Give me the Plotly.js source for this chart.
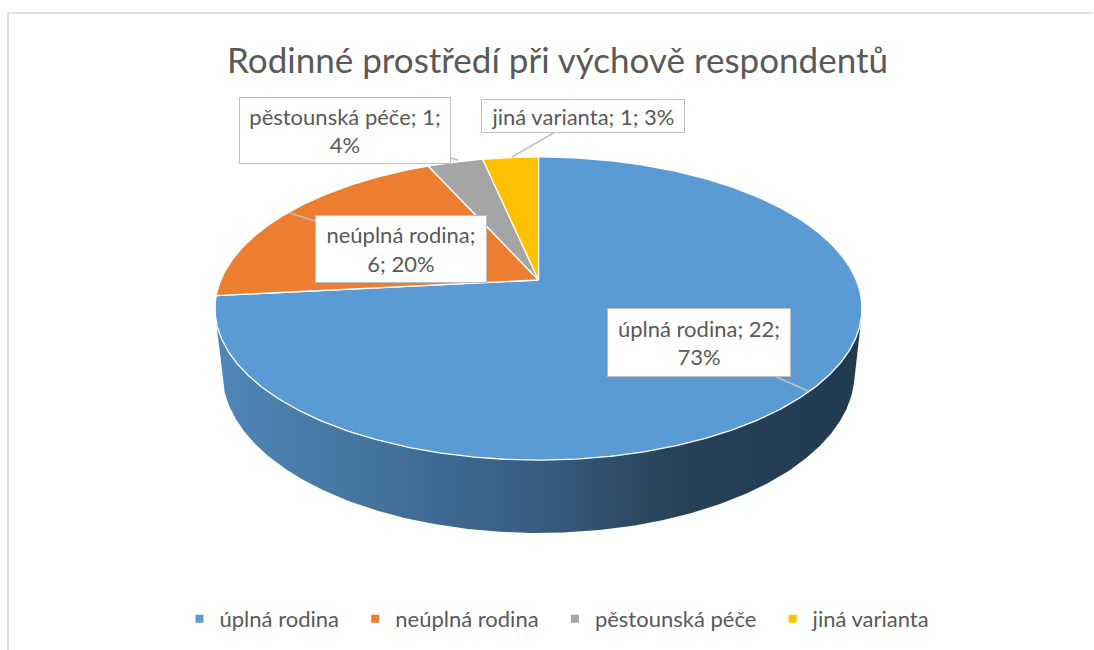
<!DOCTYPE html>
<html><head><meta charset="utf-8">
<script src="https://cdn.plot.ly/plotly-3.0.1.min.js"></script>
<style>html,body{margin:0;padding:0;background:#fff}#chart{width:1094px;height:650px}</style>
</head><body><div id="chart"></div>
<script>
// ---- data ----
const categories = ["úplná rodina", "neúplná rodina", "pěstounská péče", "jiná varianta"];
const counts = [22, 6, 1, 1];
const percentLabels = ["73%", "20%", "4%", "3%"];
const titleText = "Rodinné prostředí při výchově respondentů";

// ---- styles / layout settings ----
const sliceColors = ["#5B9BD5", "#ED7D31", "#A5A5A5", "#FFC000"];
const W = 1094, H = 650;
const FONT = "Lato, 'Open Sans', sans-serif";
const TEXT_COLOR = "#595959";
const LEGEND_PAD = "\u00a0\u00a0";
const view = {cx: 538.5, cy: 280, scale: 317.7, phi: 27.4 * Math.PI / 180, dist: 4.72, depth: 0.23};
const labelWrap = [18, 15, 19, 21];
const labelBoxes = [ // box centre (px), box size, callout tip (px)
  {cx: 699, cy: 342.5, w: 184, h: 69, tx: 808, ty: 391},
  {cx: 401, cy: 249, w: 172, h: 68, tx: 290, ty: 213},
  {cx: 345, cy: 130.5, w: 212, h: 67, tx: 458, ty: 160},
  {cx: 583, cy: 116, w: 204, h: 34, tx: 512, ty: 157}
];

function project(X, Y, z) {
  const c = Math.cos(view.phi), s = Math.sin(view.phi);
  const w = 1 + (Y * c - z * s) / view.dist;
  return [X / w, (Y * s + z * c) / w];
}
function rimPoint(t, z) { return project(Math.sin(t), Math.cos(t), z); }
function arc(a0, a1, z) {
  const n = Math.max(2, Math.ceil((a1 - a0) / (Math.PI / 360)));
  const xs = [], ys = [];
  for (let k = 0; k <= n; k++) {
    const p = rimPoint(a0 + (a1 - a0) * k / n, z);
    xs.push(p[0]); ys.push(p[1]);
  }
  return [xs, ys];
}
function hexToRgb(h) { const v = parseInt(h.slice(1), 16); return [(v >> 16) & 255, (v >> 8) & 255, v & 255]; }
function shade(h, f) { const c = hexToRgb(h); return 'rgb(' + c.map(x => Math.round(x * f)).join(',') + ')'; }

const total = counts.reduce((a, b) => a + b, 0);
const bounds = [];
let acc = 0;
counts.forEach(v => { const a0 = acc / total * 2 * Math.PI; acc += v; bounds.push([a0, acc / total * 2 * Math.PI]); });

const traces = [];
// visible side wall
const cosLim = -1 / (view.dist * Math.cos(view.phi));
const t1 = Math.acos(cosLim), t2 = 2 * Math.PI - t1;
bounds.forEach((b, i) => {
  const a0 = Math.max(b[0], t1), a1 = Math.min(b[1], t2);
  if (a1 <= a0) return;
  const top = arc(a0, a1, 0), bot = arc(a0, a1, -view.depth);
  const xs = top[0].concat(bot[0].slice().reverse()); xs.push(xs[0]);
  const ys = top[1].concat(bot[1].slice().reverse()); ys.push(ys[0]);
  traces.push({
    type: 'scatter', mode: 'lines', x: xs, y: ys, fill: 'toself',
    line: {width: 0, color: shade(sliceColors[i], 0.5)},
    fillcolor: shade(sliceColors[i], 0.5),
    fillgradient: {type: 'horizontal', start: -1.02, stop: 1.02,
      colorscale: [[0, shade(sliceColors[i], 0.87)], [0.5, shade(sliceColors[i], 0.6)],
                   [0.73, shade(sliceColors[i], 0.41)], [1, shade(sliceColors[i], 0.38)]]},
    hoverinfo: 'skip', showlegend: false
  });
});
// top face slices
bounds.forEach((b, i) => {
  const a = arc(b[0], b[1], 0);
  const xs = [0].concat(a[0], [0]);
  const ys = [0].concat(a[1], [0]);
  traces.push({
    type: 'scatter', mode: 'lines', x: xs, y: ys, fill: 'toself',
    fillcolor: sliceColors[i], line: {color: '#ffffff', width: 1.3},
    name: categories[i], legendgroup: categories[i], showlegend: false,
    hoveron: 'fills', text: categories[i] + ': ' + counts[i] + ' (' + percentLabels[i] + ')', hoverinfo: 'text'
  });
});
// legend entries
categories.forEach((c, i) => {
  traces.push({type: 'scatter', mode: 'markers', x: [null], y: [null], name: c + LEGEND_PAD, legendgroup: c,
    marker: {symbol: 'square', size: 8, color: sliceColors[i]}, hoverinfo: 'skip'});
});

function wrap(str, n) {
  const words = str.split(' '); const lines = []; let cur = '';
  words.forEach(w => { const t = cur ? cur + ' ' + w : w; if (t.length > n && cur) { lines.push(cur); cur = w; } else cur = t; });
  if (cur) lines.push(cur);
  return lines.join('<br>');
}
const annotations = categories.map((c, i) => {
  const bx = labelBoxes[i];
  return {
    xref: 'paper', yref: 'paper', x: bx.tx / W, y: 1 - bx.ty / H,
    ax: bx.cx - bx.tx, ay: bx.cy - bx.ty, axref: 'pixel', ayref: 'pixel',
    text: wrap([c, counts[i], percentLabels[i]].join('; '), labelWrap[i]),
    showarrow: true, arrowhead: 0, arrowwidth: 1.5, arrowcolor: '#BFBFBF', standoff: 0,
    bgcolor: '#ffffff', bordercolor: '#BFBFBF', borderwidth: 1, borderpad: 0,
    width: bx.w - 2, height: bx.h - 2, align: 'center', valign: 'middle',
    font: {family: FONT, size: 22, color: TEXT_COLOR}
  };
});

const layout = {
  width: W, height: H, margin: {l: 0, r: 0, t: 0, b: 0},
  paper_bgcolor: '#ffffff', plot_bgcolor: '#ffffff',
  xaxis: {range: [(0 - view.cx) / view.scale, (W - view.cx) / view.scale], visible: false, fixedrange: true},
  yaxis: {range: [(view.cy - H) / view.scale, view.cy / view.scale], visible: false, fixedrange: true},
  title: {text: titleText, font: {family: FONT, size: 35, color: TEXT_COLOR},
          x: 557.5 / W, xanchor: 'center', xref: 'paper', y: 1 - 61 / H, yanchor: 'middle', yref: 'paper'},
  showlegend: true,
  legend: {orientation: 'h', x: 563 / W, xanchor: 'center', y: 1 - 619 / H, yanchor: 'middle',
           font: {family: FONT, size: 22, color: TEXT_COLOR}, bgcolor: 'rgba(0,0,0,0)', itemclick: false, itemdoubleclick: false},
  annotations: annotations,
  shapes: [
    {type: 'line', xref: 'paper', yref: 'paper', x0: 8 / W, x1: 8 / W, y0: 1 - 13 / H, y1: 0, line: {color: '#D9D9D9', width: 1.5}},
    {type: 'line', xref: 'paper', yref: 'paper', x0: 8 / W, x1: 1093 / W, y0: 1 - 13 / H, y1: 1 - 13 / H, line: {color: '#D9D9D9', width: 1.5}}
  ]
};
Plotly.newPlot('chart', traces, layout, {displayModeBar: false, responsive: false});
</script>
</body></html>
